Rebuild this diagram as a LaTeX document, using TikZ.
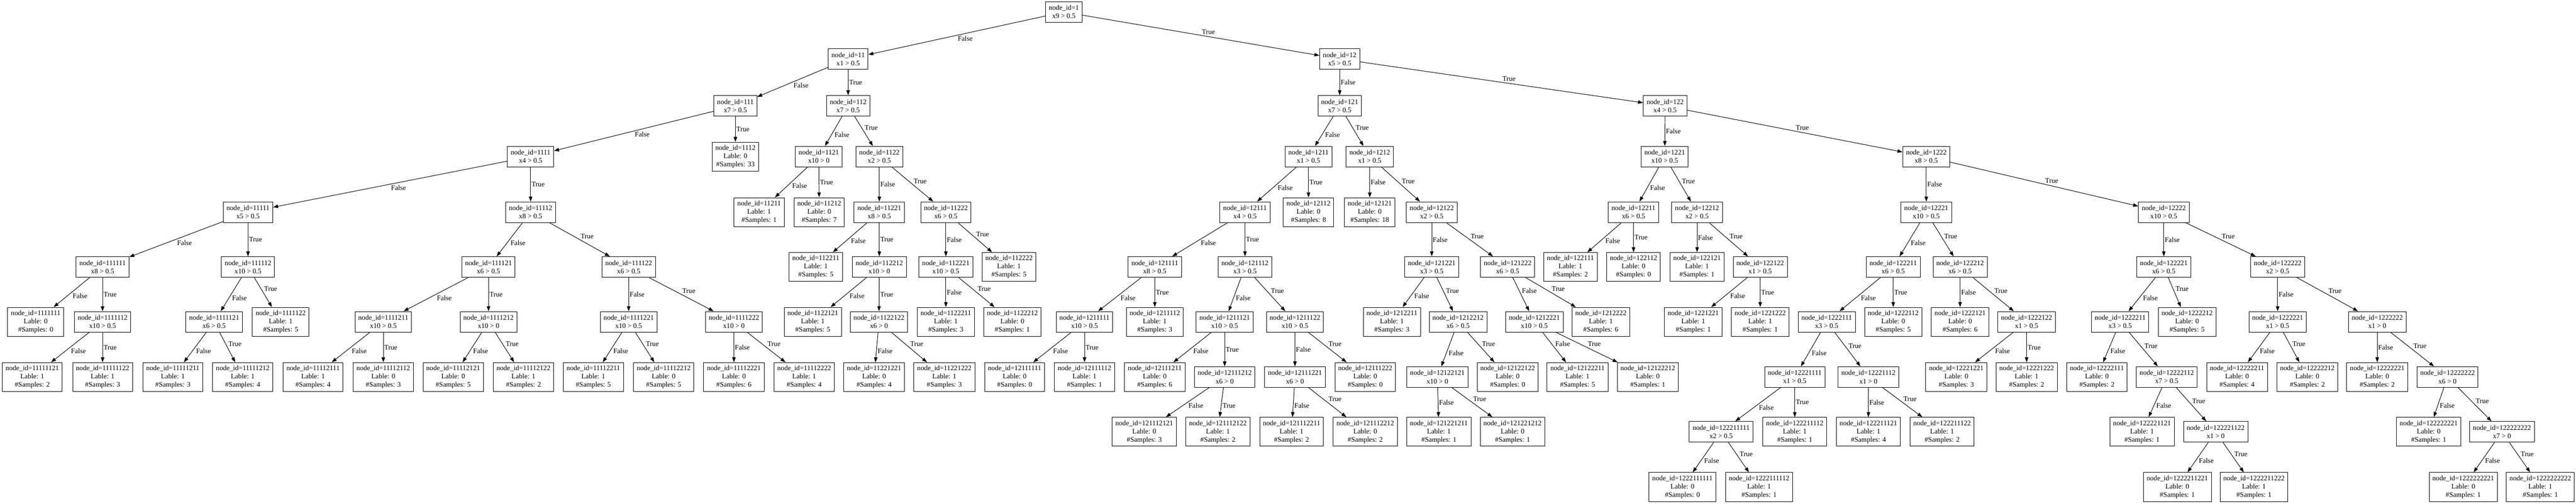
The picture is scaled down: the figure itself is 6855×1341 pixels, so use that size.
\documentclass[tikz,border=0pt]{standalone}
\usepackage{fontspec}
\setmainfont{Liberation Serif}
\usepackage{tikz}
\usetikzlibrary{arrows.meta}

\tikzset{
  splitnode/.style={draw, line width=1pt, rectangle, align=center, inner xsep=6.5pt, inner ysep=1pt, minimum height=41.25pt},
  leafnode/.style={splitnode, minimum height=57.75pt},
  edge/.style={line width=1pt, -{Triangle[length=10pt,width=7pt]}},
  elab/.style={midway, auto, inner sep=1.5pt}
}

\begin{document}
\begin{tikzpicture}[x=0.75pt, y=-0.75pt, every node/.style={font=\fontsize{14}{16.5}\selectfont}]
\useasboundingbox (0,0) rectangle (6855,1341);

\foreach \id/\xx/\yy/\feat/\thr in {1/2831/32/9/0.5,
  11/2257/157/1/0.5, 12/3565/157/5/0.5,
  111/1957/282/7/0.5, 112/2257/282/7/0.5, 121/3565/282/7/0.5, 122/4431/282/4/0.5,
  1111/1412/417/4/0.5, 1121/2179/417/10/0, 1122/2340/417/2/0.5, 1211/3482/417/1/0.5,
  1212/3645/417/1/0.5, 1221/4430/417/10/0.5, 1222/5126/417/8/0.5,
  11111/660/565/5/0.5, 11112/1412/565/8/0.5, 11221/2340/565/8/0.5, 11222/2517/565/6/0.5,
  12111/3313/565/4/0.5, 12122/3810/565/2/0.5, 12211/4347/565/6/0.5, 12212/4516/565/2/0.5,
  12221/5126/565/10/0.5, 12222/5758/565/10/0.5,
  111111/273/711/8/0.5, 111112/660/711/10/0.5, 111121/1300/711/6/0.5, 111122/1673/711/6/0.5,
  112212/2340/711/10/0, 112221/2517/711/10/0.5, 121111/3073/711/8/0.5, 121112/3313/711/3/0.5,
  121221/3810/711/3/0.5, 121222/4012/711/6/0.5, 122122/4684/711/1/0.5, 122211/5038/711/6/0.5,
  122212/5216/711/6/0.5, 122221/5758/711/6/0.5, 122222/6061/711/2/0.5,
  1111112/273/857/10/0.5, 1111121/570/857/6/0.5, 1111211/1020/857/10/0.5, 1111212/1300/857/10/0,
  1111221/1673/857/10/0.5, 1111222/1953/857/10/0, 1122122/2339/857/6/0, 1211111/2886/857/10/0.5,
  1211121/3259/857/10/0.5, 1211122/3446/857/10/0.5, 1212212/3880/857/6/0.5, 1212221/4083/857/10/0.5,
  1222111/4861/857/3/0.5, 1222122/5393/857/1/0.5, 1222211/5642/857/3/0.5, 1222221/6061/857/1/0.5,
  1222222/6326/857/1/0,
  12111212/3259/1004/6/0, 12111221/3446/1004/6/0, 12122121/3825/1004/10/0, 12221111/4776/1004/1/0.5,
  12221112/4972/1004/1/0, 12222112/5766/1004/7/0.5, 12222222/6513/1004/6/0,
  122211111/4580/1150/2/0.5, 122221122/5896/1150/1/0, 122222222/6658/1150/7/0}
  \node [splitnode] (n\id) at (\xx,\yy) {node\_id=\id\\x\feat{} > \thr};

\foreach \id/\xx/\yy/\lab/\num in {1112/1957/417/0/33,
  11211/2020/565/1/1, 11212/2180/565/0/7, 12112/3482/565/0/8, 12121/3645/565/0/18,
  112211/2171/711/1/5, 112222/2685/711/1/5, 122111/4179/711/1/2, 122112/4347/711/0/0,
  122121/4516/711/1/1,
  1111111/95/857/0/0, 1111122/747/857/1/5, 1122121/2163/857/1/5, 1122211/2517/857/1/3,
  1122212/2694/857/0/1, 1211112/3073/857/1/3, 1212211/3704/857/1/3, 1212222/4260/857/1/6,
  1221221/4506/857/1/1, 1221222/4684/857/1/1, 1222112/5038/857/0/5, 1222121/5216/857/0/6,
  1222212/5820/857/0/5,
  11111121/86/1004/1/2, 11111122/273/1004/1/3, 11111211/460/1004/1/3, 11111212/646/1004/1/4,
  11112111/833/1004/1/4, 11112112/1020/1004/0/3, 11112121/1206/1004/0/5, 11112122/1393/1004/1/2,
  11112211/1579/1004/1/5, 11112212/1766/1004/0/5, 11112221/1953/1004/0/6, 11112222/2140/1004/1/4,
  11221221/2326/1004/0/4, 11221222/2513/1004/1/3, 12111111/2700/1004/0/0, 12111112/2886/1004/1/1,
  12111211/3073/1004/0/6, 12111222/3633/1004/0/0, 12122122/4012/1004/0/0, 12122211/4198/1004/1/5,
  12122212/4385/1004/0/1, 12221221/5206/1004/0/3, 12221222/5393/1004/1/2, 12222111/5580/1004/0/2,
  12222211/5953/1004/0/4, 12222212/6140/1004/0/2, 12222221/6326/1004/0/2,
  121112121/3045/1150/0/3, 121112122/3241/1150/1/2, 121112211/3437/1150/1/2, 121112212/3633/1150/0/2,
  121221211/3829/1150/1/1, 121221212/4025/1150/0/1, 122211112/4776/1150/1/1, 122211121/4972/1150/1/4,
  122211122/5168/1150/1/2, 122221121/5700/1150/1/1, 122222221/6463/1150/0/1,
  1222111111/4477/1297/0/0, 1222111112/4681/1297/1/1, 1222211221/5794/1297/0/1,
  1222211222/5998/1297/1/1, 1222222221/6555/1297/0/1, 1222222222/6760/1297/1/1}
  \node [leafnode] (n\id) at (\xx,\yy) {node\_id=\id\\Lable: \lab\\\#Samples: \num};

\foreach \a in {1, 11, 12, 111, 112, 121, 122, 1111, 1121, 1122, 1211, 1212, 1221, 1222,
  11111, 11112, 11221, 11222, 12111, 12122, 12211, 12212, 12221, 12222,
  111111, 111112, 111121, 111122, 112212, 112221, 121111, 121112, 121221, 121222,
  122122, 122211, 122212, 122221, 122222,
  1111112, 1111121, 1111211, 1111212, 1111221, 1111222, 1122122, 1211111, 1211121,
  1211122, 1212212, 1212221, 1222111, 1222122, 1222211, 1222221, 1222222,
  12111212, 12111221, 12122121, 12221111, 12221112, 12222112, 12222222,
  122211111, 122221122, 122222222}
{
  \draw [edge] (n\a) -- (n\a1) node [elab] {False};
  \draw [edge] (n\a) -- (n\a2) node [elab] {True};
}

\end{tikzpicture}
\end{document}
